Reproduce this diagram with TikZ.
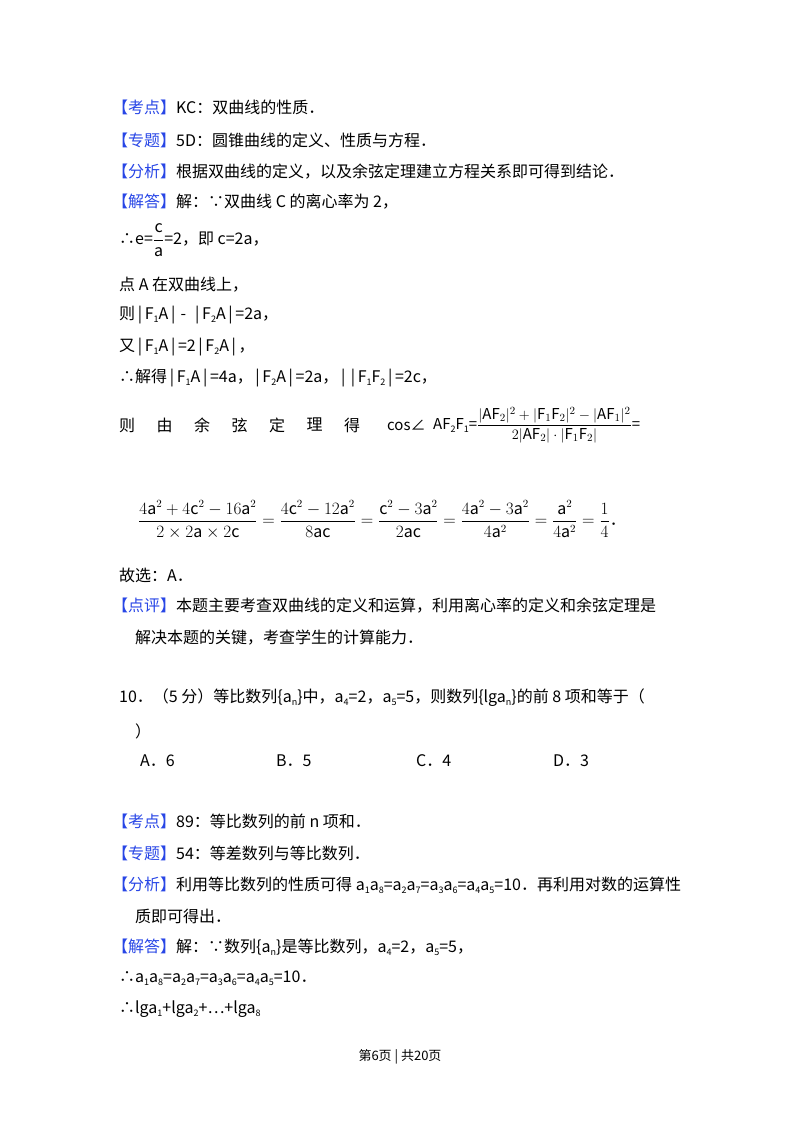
\documentclass[tikz,border=0pt]{standalone}
\usepackage{amsmath}
\usepackage{fontspec}
\setmainfont{Noto Sans CJK SC}
\begin{document}
\begin{tikzpicture}[x=1pt,y=-1pt,
  t/.style={anchor=west,inner sep=0pt,font=\fontsize{16}{19}\selectfont},
  s/.style={anchor=west,inner sep=0pt,font=\fontsize{13}{16}\selectfont}]
\definecolor{lb}{RGB}{40,70,230}
\newcommand{\lab}[1]{\textcolor{lb}{【#1】}}
\newcommand{\sbs}[1]{\raisebox{-0.35ex}{\fontsize{9}{9}\selectfont #1}}
\newcommand{\vb}{\,|\,}
\useasboundingbox (0,0) rectangle (800,1133);
\node[t] (l1) at (112,107) {\lab{考点}KC：双曲线的性质．};
\node[t] (l2) at (112,140) {\lab{专题}5D：圆锥曲线的定义、性质与方程．};
\node[t] (l3) at (112,172) {\lab{分析}根据双曲线的定义，以及余弦定理建立方程关系即可得到结论．};
\node[t] (l4) at (112,202) {\lab{解答}解：∵双曲线 C 的离心率为 2，};
\node[t] (l5) at (119,240) {∴e=$\dfrac{\mathrm{c}}{\mathrm{a}}$=2，即 c=2a，};
\node[t] (l6) at (119,285) {点 A 在双曲线上，};
\node[t] (l7) at (119,315) {则\vb F\sbs{1}A\vb \,-\, \vb F\sbs{2}A\vb =2a，};
\node[t] (l8) at (119,347) {又\vb F\sbs{1}A\vb =2\vb F\sbs{2}A\vb ，};
\node[t] (l9) at (119,378) {∴解得\vb F\sbs{1}A\vb =4a，\vb F\sbs{2}A\vb =2a，\vb\vb F\sbs{1}F\sbs{2}\vb =2c，};
\foreach \c [count=\i] in {则,由,余,弦,定,理,得}
  \node[t] (c\i) at ({119+(\i-1)*37.5},425) {\c};
\node[t] (cs) at (387,425) {\fontsize{15}{17}\selectfont cos∠};
\node[t] (cf) at (433,425) {\fontsize{15}{17}\selectfont AF\sbs{2}F\sbs{1}=$\dfrac{|\mathrm{AF}_2|^2+|\mathrm{F}_1\mathrm{F}_2|^2-|\mathrm{AF}_1|^2}{2|\mathrm{AF}_2|\cdot|\mathrm{F}_1\mathrm{F}_2|}$=};
\node[t] (fr) at (138,520) {$\dfrac{4\mathrm{a}^2+4\mathrm{c}^2-16\mathrm{a}^2}{2\times2\mathrm{a}\times2\mathrm{c}}=\dfrac{4\mathrm{c}^2-12\mathrm{a}^2}{8\mathrm{ac}}=\dfrac{\mathrm{c}^2-3\mathrm{a}^2}{2\mathrm{ac}}=\dfrac{4\mathrm{a}^2-3\mathrm{a}^2}{4\mathrm{a}^2}=\dfrac{\mathrm{a}^2}{4\mathrm{a}^2}=\dfrac{1}{4}$．};
\node[t] (l10) at (119,575) {故选：A．};
\node[t] (l11) at (112,606) {\lab{点评}本题主要考查双曲线的定义和运算，利用离心率的定义和余弦定理是};
\node[t] (l12) at (135,638) {解决本题的关键，考查学生的计算能力．};
\node[t] (q1) at (119,698) {10．（5 分）等比数列\{a\sbs{n}\}中，a\sbs{4}=2，a\sbs{5}=5，则数列\{lga\sbs{n}\}的前 8 项和等于（};
\node[t] (q2) at (135,731) {）};
\node[t] (oa) at (140,761) {A．6};
\node[t] (ob) at (276,761) {B．5};
\node[t] (oc) at (416,761) {C．4};
\node[t] (od) at (553,761) {D．3};
\node[t] (m1) at (112,821) {\lab{考点}89：等比数列的前 n 项和．};
\node[t] (m2) at (112,853) {\lab{专题}54：等差数列与等比数列．};
\node[t] (m3) at (112,885) {\lab{分析}利用等比数列的性质可得 a\sbs{1}a\sbs{8}=a\sbs{2}a\sbs{7}=a\sbs{3}a\sbs{6}=a\sbs{4}a\sbs{5}=10．再利用对数的运算性};
\node[t] (m4) at (135,916) {质即可得出．};
\node[t] (m5) at (112,947) {\lab{解答}解：∵数列\{a\sbs{n}\}是等比数列，a\sbs{4}=2，a\sbs{5}=5，};
\node[t] (m6) at (119,978) {∴a\sbs{1}a\sbs{8}=a\sbs{2}a\sbs{7}=a\sbs{3}a\sbs{6}=a\sbs{4}a\sbs{5}=10．};
\node[t] (m7) at (119,1009) {∴lga\sbs{1}+lga\sbs{2}+…+lga\sbs{8}};
\node[s,anchor=center] (ft) at (400,1057) {第6页 | 共20页};
\end{tikzpicture}
\end{document}
